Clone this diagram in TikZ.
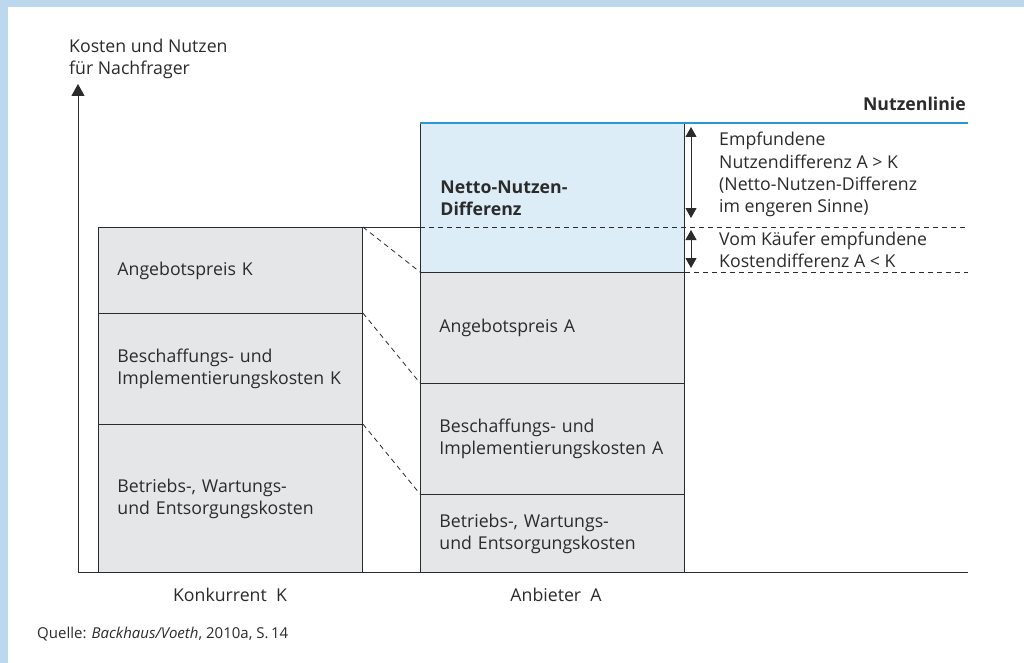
\documentclass[tikz,border=0pt]{standalone}
\usepackage{fontspec}
\setmainfont{Open Sans}
\usetikzlibrary{arrows.meta}
\definecolor{frame}{HTML}{BBD8EE}
\definecolor{boxgray}{HTML}{E5E6E8}
\definecolor{boxblue}{HTML}{DDEDF8}
\definecolor{nline}{HTML}{2A97D4}
\definecolor{ink}{HTML}{2B2B2B}
\newcommand{\mainsize}{\fontsize{17.7}{22}\selectfont}
\tikzset{
  txt/.style={font=\mainsize, text=ink, inner sep=0pt},
  costbox/.style={draw=ink, line width=0.9pt, fill=boxgray, minimum width=264pt,
     text width=232pt, inner xsep=16pt, inner ysep=0pt, align=left, anchor=north west,
     font=\mainsize, text=ink},
  guide/.style={draw=ink, line width=0.8pt, dash pattern=on 5pt off 4pt},
  dblarrow/.style={draw=ink, line width=0.9pt, {Triangle[length=10pt,width=11pt]}-{Triangle[length=10pt,width=11pt]}},
}
\begin{document}
\begin{tikzpicture}[x=1pt,y=-1pt]
\useasboundingbox (0,0) rectangle (1024,663);
\fill[white] (0,0) rectangle (1024,663);
\fill[frame] (0,0) rectangle (1024,7);
\fill[frame] (0,0) rectangle (8,663);
% axes
\coordinate (origin) at (78,572);
\coordinate (ytop) at (78,84);
\coordinate (xend) at (968,572);
\draw[ink, line width=1pt, -{Triangle[length=12pt,width=13pt]}] (origin) -- (ytop);
\node[txt, anchor=base west] (ylab1) at (69,53) {Kosten und Nutzen};
\node[txt, anchor=base west] (ylab2) at (69,75) {für Nachfrager};
% Konkurrent column
\node[costbox, minimum height=86pt] (kP) at (98,227) {\hspace*{3pt}Angebotspreis K};
\node[costbox, minimum height=111pt] (kB) at (98,313) {\hspace*{3pt}Beschaffungs- und\\\hspace*{3pt}Implementierungskosten K};
\node[costbox, minimum height=148pt] (kE) at (98,424) {\hspace*{3pt}Betriebs-, Wartungs-\\\hspace*{3pt}und Entsorgungskosten};
% Anbieter column
\node[costbox, fill=boxblue, minimum height=149pt, font=\mainsize\bfseries] (aN) at (420,123) {\hspace*{4pt}Netto-Nutzen-\\\hspace*{4pt}Differenz};
\node[costbox, minimum height=111pt] (aP) at (420,272) {\hspace*{3pt}Angebotspreis A};
\node[costbox, minimum height=111pt] (aB) at (420,383) {\hspace*{3pt}Beschaffungs- und\\\hspace*{3pt}Implementierungskosten A};
\node[costbox, minimum height=78pt] (aE) at (420,494) {\hspace*{3pt}Betriebs-, Wartungs-\\\hspace*{3pt}und Entsorgungskosten};
\draw[ink, line width=1pt] (origin) -- (xend);
% guide lines
\coordinate (kTopR) at (420,227);
\coordinate (kTopEnd) at (968,227);
\coordinate (aTopEnd) at (968,272);
\coordinate (nEnd) at (968,123);
\draw[ink, line width=0.9pt] (kP.north west) -- (kTopR);
\draw[guide] (kTopR) -- (kTopEnd);
\draw[guide] (aP.north east) -- (aTopEnd);
\draw[guide] (kP.north east) -- (aP.north west);
\draw[guide] (kB.north east) -- (aB.north west);
\draw[guide] (kE.north east) -- (aE.north west);
\draw[nline, line width=2pt] (aN.north west) -- (nEnd);
\node[txt, anchor=base east, font=\mainsize\bfseries] (nl) at (966,111) {Nutzenlinie};
% difference arrows
\coordinate (a1t) at (691,127);
\coordinate (a1b) at (691,218);
\coordinate (a2t) at (691,230);
\coordinate (a2b) at (691,268);
\draw[dblarrow] (a1t) -- (a1b);
\draw[dblarrow] (a2t) -- (a2b);
\node[txt, anchor=base west] (d1a) at (719,146) {Empfundene};
\node[txt, anchor=base west] (d1b) at (719,168) {Nutzendifferenz A > K};
\node[txt, anchor=base west] (d1c) at (719,190) {(Netto-Nutzen-Differenz};
\node[txt, anchor=base west] (d1d) at (719,212) {im engeren Sinne)};
\node[txt, anchor=base west] (d2a) at (719,245) {Vom Käufer empfundene};
\node[txt, anchor=base west] (d2b) at (719,267) {Kostendifferenz A < K};
% column labels
\node[txt, anchor=base] (lk) at (230,601) {Konkurrent~~K};
\node[txt, anchor=base] (la) at (556,601) {Anbieter~~A};
\node[inner sep=0pt, anchor=base west, font=\fontsize{15}{17}\selectfont, text=ink] (src) at (37,638) {Quelle: \textit{Backhaus/Voeth}, 2010a, S.\,14};
\end{tikzpicture}
\end{document}
